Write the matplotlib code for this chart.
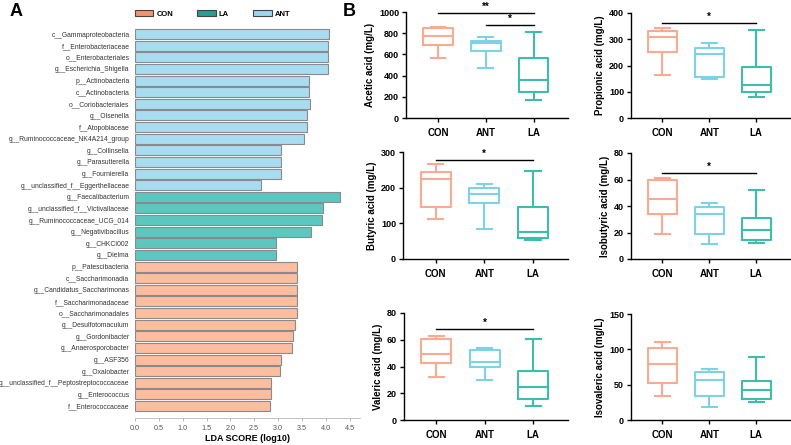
import matplotlib
matplotlib.use("Agg")
import matplotlib.pyplot as plt
from matplotlib.patches import Patch

plt.rcParams["font.family"] = ["Liberation Sans", "DejaVu Sans"]

# ---- panel A: LEfSe LDA scores ----
taxa = [
    "c__Gammaproteobacteria", "f__Enterobacteriaceae", "o__Enterobacteriales",
    "g__Escherichia_Shigella", "p__Actinobacteria", "c__Actinobacteria",
    "o__Coriobacteriales", "g__Olsenella", "f__Atopobiaceae",
    "g__Ruminococcaceae_NK4A214_group", "g__Collinsella", "g__Parasutterella",
    "g__Fournierella", "g__unclassified_f__Eggerthellaceae",
    "g__Faecalibacterium", "g__unclassified_f__Victivallaceae",
    "g__Ruminococcaceae_UCG_014", "g__Negativibacillus", "g__CHKCI002",
    "g__Dielma", "p__Patescibacteria", "c__Saccharimonadia",
    "g__Candidatus_Saccharimonas", "f__Saccharimonadaceae",
    "o__Saccharimonadales", "g__Desulfotomaculum", "g__Gordonibacter",
    "g__Anaerosporobacter", "g__ASF356", "g__Oxalobacter",
    "g__unclassified_f__Peptostreptococcaceae", "g__Enterococcus",
    "f__Enterococcaceae",
]
lda = [4.06, 4.05, 4.05, 4.05, 3.66, 3.66, 3.67, 3.61, 3.61, 3.54,
       3.07, 3.07, 3.07, 2.65,
       4.29, 3.95, 3.92, 3.70, 2.95, 2.95,
       3.40, 3.40, 3.40, 3.40, 3.40, 3.35, 3.32, 3.30, 3.07, 3.05,
       2.85, 2.85, 2.83]
group = ["ANT"] * 14 + ["LA"] * 6 + ["CON"] * 13

bar_col = {"CON": "#FDBEA0", "LA": "#5CC7BF", "ANT": "#A8DCF0"}
leg_col = {"CON": "#F5936F", "LA": "#22A293", "ANT": "#9CD5EE"}

# ---- panel B: SCFA box stats (min, q1, median, q3, max) ----
groups = ["CON", "ANT", "LA"]
box_col = {"CON": "#FAAA90", "ANT": "#7ED2E6", "LA": "#3FBDAA"}

acetic = [(564, 690, 777, 853, 862), (470, 633, 705, 730, 765), (172, 245, 360, 570, 812)]
propionic = [(163, 250, 309, 332, 342), (149, 158, 244, 267, 286), (81, 98, 126, 196, 334)]
butyric = [(113, 145, 225, 243, 265), (84, 156, 181, 199, 211), (53, 58, 76, 145, 246)]
isobutyric = [(18.5, 34, 45.4, 60, 61.5), (11.2, 18.8, 34.3, 39.6, 42.4), (11.7, 14.7, 22, 30.7, 52.3)]
valeric = [(31.8, 42.3, 49.5, 60.5, 62.8), (30, 39.3, 43.3, 52.5, 54), (10.5, 16, 24.3, 37, 60.3)]
isovaleric = [(34, 52.5, 78.6, 102, 110), (18.5, 34, 56.8, 68, 71.5), (25.6, 30.3, 42, 55.8, 89)]

# (values, ylabel, ymax, ystep, significance [(i, j, y, text)])
panels = [
    (acetic, "Acetic acid (mg/L)", 1000, 200, [(0, 2, 987, "**"), (1, 2, 875, "*")]),
    (propionic, "Propionic acid (mg/L)", 400, 100, [(0, 2, 362, "*")]),
    (butyric, "Butyric acid (mg/L)", 300, 100, [(0, 2, 278, "*")]),
    (isobutyric, "Isobutyric acid (mg/L)", 80, 20, [(0, 2, 65, "*")]),
    (valeric, "Valeric acid (mg/L)", 80, 20, [(0, 2, 68, "*")]),
    (isovaleric, "Isovaleric acid (mg/L)", 150, 50, []),
]

W, H = 791, 445
fig = plt.figure(figsize=(W / 100, H / 100), dpi=100)

def px_axes(left, right, top, bottom):
    return fig.add_axes([left / W, 1 - bottom / H, (right - left) / W, (bottom - top) / H])

# ---------- panel A ----------
axA = px_axes(135, 360, 28.2, 418)
n = len(taxa)
ypos = list(range(n - 1, -1, -1))
axA.barh(ypos, lda, height=0.86, color=[bar_col[g] for g in group],
         edgecolor="#8a8a8a", linewidth=0.8)
axA.set_ylim(-1.03, n - 0.5)
axA.set_xlim(0, 4.72)
axA.set_yticks(ypos)
axA.set_yticklabels(taxa, fontsize=4.9, color="#333333")
axA.tick_params(axis="y", length=0, pad=4)
axA.set_xticks([i * 0.5 for i in range(10)])
axA.set_xticklabels([f"{i * 0.5:.1f}" for i in range(10)], fontsize=5.2, color="#555555")
axA.tick_params(axis="x", length=2.5, width=0.5, color="#999999", pad=2.5)
for s in ("top", "right", "left"):
    axA.spines[s].set_visible(False)
axA.spines["bottom"].set_color("#aaaaaa")
axA.spines["bottom"].set_linewidth(0.5)
axA.set_xlabel("LDA SCORE (log10)", fontsize=6.5, fontweight="bold", labelpad=1.5)

handles = [Patch(facecolor=leg_col[g], edgecolor="#444444", linewidth=0.8, label=g)
           for g in ["CON", "LA", "ANT"]]
fig.legend(handles=handles, loc="center left", bbox_to_anchor=(128 / W, 1 - 14 / H),
           ncol=3, frameon=False, handlelength=2.4, handleheight=0.9,
           columnspacing=3.2, handletextpad=0.4,
           prop={"weight": "bold", "size": 5.5})

fig.text(10 / W, 1 - 12 / H, "A", fontsize=13, fontweight="bold", va="center")
fig.text(343 / W, 1 - 12 / H, "B", fontsize=13, fontweight="bold", va="center")

# ---------- panel B ----------
boxes = [
    (406, 568, 12, 118), (631, 790, 13, 118),
    (403, 568, 152, 259), (631, 790, 153, 259),
    (404, 568, 313, 420), (631, 790, 314, 420),
]
for (vals, ylab, ymax, ystep, sig), (l, r, t, b) in zip(panels, boxes):
    ax = px_axes(l, r, t, b)
    stats = [dict(whislo=v[0], q1=v[1], med=v[2], q3=v[3], whishi=v[4], label=g)
             for v, g in zip(vals, groups)]
    for k, (st, g) in enumerate(zip(stats, groups)):
        c = box_col[g]
        ax.bxp([st], positions=[k], widths=0.62, showfliers=False,
               boxprops=dict(color=c, linewidth=1.5),
               whiskerprops=dict(color=c, linewidth=1.5),
               capprops=dict(color=c, linewidth=1.5),
               medianprops=dict(color=c, linewidth=1.5),
               manage_ticks=False)
    ax.set_xlim(-0.67, 2.72)
    ax.set_ylim(0, ymax)
    ax.set_yticks(range(0, ymax + 1, ystep))
    ax.set_xticks(range(len(groups)))
    ax.set_xticklabels(groups, fontsize=7, fontweight="bold")
    for lab in ax.get_yticklabels():
        lab.set_fontweight("bold")
        lab.set_fontsize(6.5)
    ax.tick_params(axis="both", length=3, width=1, pad=2)
    ax.tick_params(axis="x", pad=4)
    ax.set_ylabel(ylab, fontsize=7, fontweight="bold", labelpad=3)
    for s in ("top", "right"):
        ax.spines[s].set_visible(False)
    for s in ("left", "bottom"):
        ax.spines[s].set_linewidth(1)
    for i, j, y, txt in sig:
        ax.plot([i, j], [y, y], color="black", linewidth=1, clip_on=False)
        ax.text((i + j) / 2, y + ymax * 0.012, txt, ha="center", va="bottom",
                fontsize=7, fontweight="bold")

fig.savefig("out.png", dpi=100)
